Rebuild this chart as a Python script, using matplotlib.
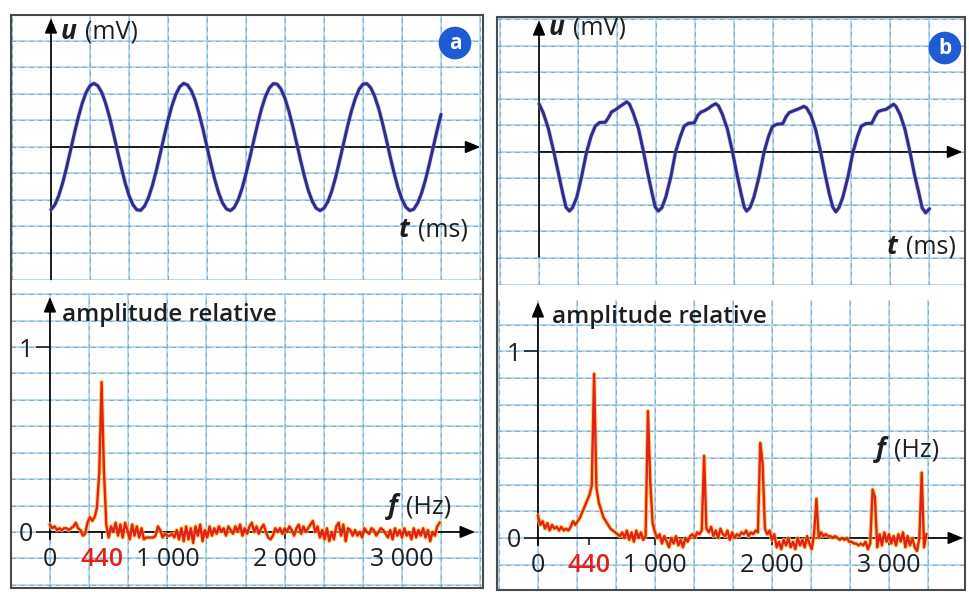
import numpy as np
import matplotlib.pyplot as plt
from matplotlib.ticker import MultipleLocator
from matplotlib.patches import Rectangle
import matplotlib.patheffects as pe

plt.rcParams['font.family'] = ['Open Sans', 'DejaVu Sans']

# --- signal a : pure tone (t in ms, u in mV), sampled every 0.1 ms
t_a = np.arange(0, 10.001, 0.1)
u_a = [-2.37, -2.18, -1.83, -1.35, -0.77, -0.13, 0.52, 1.12, 1.65, 2.06,
       2.31, 2.40, 2.31, 2.06, 1.65, 1.13, 0.52, -0.13, -0.76, -1.35,
       -1.83, -2.18, -2.37, -2.39, -2.23, -1.91, -1.45, -0.89, -0.26, 0.39,
       1.01, 1.55, 1.98, 2.27, 2.40, 2.34, 2.12, 1.75, 1.24, 0.65,
       0.00, -0.64, -1.23, -1.74, -2.12, -2.34, -2.40, -2.28, -1.99, -1.56,
       -1.01, -0.39, 0.25, 0.88, 1.45, 1.91, 2.23, 2.39, 2.37, 2.18,
       1.83, 1.35, 0.77, 0.14, -0.51, -1.12, -1.65, -2.05, -2.31, -2.40,
       -2.31, -2.06, -1.66, -1.13, -0.52, 0.12, 0.76, 1.34, 1.82, 2.18,
       2.37, 2.39, 2.23, 1.91, 1.46, 0.90, 0.27, -0.38, -1.00, -1.55,
       -1.98, -2.27, -2.40, -2.35, -2.12, -1.75, -1.25, -0.65, -0.01, 0.63,
       1.23]

# --- signal b : instrument note
t_b = [0.00, 0.11, 0.24, 0.38, 0.50, 0.61, 0.69, 0.78,
       0.86, 0.97, 1.09, 1.22, 1.33, 1.44, 1.55, 1.70, 1.79, 1.86, 1.97, 2.06, 2.16,
       2.25, 2.32, 2.42, 2.55, 2.68, 2.79, 2.90, 2.98, 3.06,
       3.15, 3.25, 3.38, 3.50, 3.62, 3.72, 3.83, 3.98, 4.07, 4.15, 4.26, 4.34, 4.44,
       4.53, 4.60, 4.70, 4.83, 4.96, 5.07, 5.18, 5.26, 5.32,
       5.41, 5.51, 5.64, 5.77, 5.88, 5.98, 6.09, 6.25, 6.33, 6.41, 6.52, 6.61, 6.71,
       6.79, 6.86, 6.97, 7.09, 7.22, 7.33, 7.44, 7.53, 7.61,
       7.69, 7.79, 7.92, 8.05, 8.16, 8.26, 8.38, 8.53, 8.62, 8.69, 8.80, 8.89, 8.99,
       9.09, 9.15, 9.26, 9.38, 9.51, 9.62, 9.74, 9.82, 9.91, 10.01]
u_b = [1.82, 1.47, 0.88, 0.00, -0.82, -1.57, -2.08, -2.23,
       -2.10, -1.70, -0.94, 0.00, 0.57, 0.97, 1.11, 1.12, 1.32, 1.51, 1.60, 1.70, 1.80,
       1.89, 1.80, 1.45, 0.88, 0.00, -0.82, -1.57, -2.08, -2.23,
       -2.10, -1.70, -0.94, 0.00, 0.57, 0.97, 1.08, 1.10, 1.38, 1.50, 1.57, 1.64, 1.75,
       1.82, 1.74, 1.42, 0.86, 0.00, -0.82, -1.57, -2.08, -2.23,
       -2.10, -1.70, -0.94, 0.00, 0.57, 0.95, 1.04, 1.07, 1.32, 1.48, 1.55, 1.60, 1.66,
       1.72, 1.66, 1.38, 0.85, 0.00, -0.82, -1.57, -2.08, -2.26,
       -2.10, -1.70, -0.94, 0.00, 0.57, 0.97, 1.07, 1.08, 1.35, 1.52, 1.58, 1.60, 1.70,
       1.80, 1.72, 1.40, 0.86, 0.00, -0.82, -1.57, -2.10, -2.30, -2.14]

# --- spectra (f in Hz, every 20 Hz, relative amplitude)
f_spec = np.arange(0, 3340, 20)
amp_a = [0.04, 0.02, 0.03, 0.01, 0.02, 0.01, 0.02, 0.02, 0.01, 0.02,
         0.03, 0.05, 0.02, 0.01, -0.02, -0.01, 0.05, 0.08, 0.06, 0.08,
         0.13, 0.32, 0.81, 0.33, 0.04, -0.03, 0.03, 0.00, 0.05, -0.02,
         0.04, -0.03, 0.05, 0.01, -0.04, 0.04, -0.02, 0.03, -0.03, 0.02,
         -0.04, -0.03, -0.03, -0.03, -0.03, -0.02, 0.03, 0.01, -0.03, -0.01,
         -0.02, -0.02, -0.01, -0.03, 0.01, -0.04, 0.02, -0.05, 0.03, -0.04,
         0.02, -0.06, 0.03, -0.02, 0.04, -0.05, 0.01, -0.03, 0.03, -0.02,
         0.02, -0.01, 0.03, 0.00, 0.02, -0.02, 0.03, 0.01, -0.01, 0.03,
         0.00, 0.04, -0.02, 0.02, -0.01, 0.03, 0.05, 0.00, 0.03, -0.01,
         0.02, 0.04, 0.00, -0.03, -0.04, -0.02, 0.02, 0.00, 0.02, -0.01,
         0.02, 0.00, 0.03, 0.01, -0.02, 0.02, 0.04, -0.01, 0.03, 0.00,
         0.02, 0.04, 0.06, 0.00, 0.03, -0.03, 0.01, -0.04, 0.02, -0.05,
         0.00, -0.04, 0.03, 0.05, -0.02, 0.04, -0.05, 0.02, 0.01, -0.02,
         0.01, -0.02, 0.00, -0.03, 0.02, 0.00, -0.01, 0.02, 0.01, -0.02,
         0.00, 0.02, 0.01, -0.01, -0.03, 0.01, -0.04, 0.02, -0.02, 0.01,
         -0.03, 0.02, -0.02, 0.00, -0.04, 0.02, -0.03, 0.01, -0.02, 0.02,
         -0.03, 0.01, -0.05, 0.00, -0.02, 0.03, 0.05]
amp_b = [0.12, 0.07, 0.09, 0.05, 0.08, 0.04, 0.07, 0.05, 0.06, 0.04,
         0.06, 0.04, 0.05, 0.04, 0.06, 0.09, 0.07, 0.09, 0.11, 0.14,
         0.17, 0.20, 0.23, 0.28, 0.88, 0.27, 0.19, 0.15, 0.11, 0.09,
         0.07, 0.05, 0.04, 0.03, 0.02, 0.01, 0.03, 0.00, 0.04, -0.01,
         0.03, -0.02, 0.04, 0.00, 0.03, -0.01, 0.01, 0.68, 0.30, 0.08,
         0.03, 0.00, 0.02, -0.03, 0.01, -0.02, -0.05, 0.00, -0.03, 0.01,
         -0.04, -0.01, -0.05, 0.00, -0.02, 0.01, 0.02, 0.00, 0.03, 0.02,
         0.04, 0.44, 0.05, 0.03, 0.06, 0.01, 0.04, 0.00, 0.05, 0.02,
         0.01, 0.04, -0.01, 0.03, 0.00, 0.02, 0.01, 0.03, 0.02, 0.04,
         0.01, 0.03, 0.02, 0.04, 0.03, 0.51, 0.40, 0.05, 0.02, 0.04,
         -0.01, 0.02, -0.05, -0.02, -0.06, -0.01, -0.04, 0.00, -0.05, -0.02,
         -0.06, 0.00, -0.04, -0.01, -0.05, 0.01, -0.03, -0.06, 0.02, 0.21,
         0.00, 0.03, 0.01, 0.02, 0.01, 0.01, 0.00, 0.01, 0.00, -0.01,
         0.00, -0.01, 0.00, -0.02, -0.02, -0.03, -0.03, -0.04, -0.03, -0.04,
         -0.02, -0.06, -0.03, 0.26, 0.22, -0.05, 0.02, -0.04, 0.03, -0.02,
         0.02, -0.03, 0.01, -0.04, 0.02, -0.02, 0.03, -0.05, 0.01, -0.04,
         0.00, -0.05, -0.07, 0.00, 0.35, -0.05, 0.02]

f_ticks = [0, 440, 1000, 2000, 3000]
f_labels = ['0', '440', '1 000', '2 000', '3 000']

W, H = 969, 592
INK = '#1e1e1e'
BLUE_LINE = '#2b2e8c'
RED = '#e3201b'
fig = plt.figure(figsize=(W / 100, H / 100), dpi=100)


def rect(left, top, right, bottom):
    return [left / W, 1 - bottom / H, (right - left) / W, (bottom - top) / H]


def paper(ax, dx, dy):
    x0, x1 = ax.get_xlim()
    y0, y1 = ax.get_ylim()
    for v in MultipleLocator(dx).tick_values(x0, x1):
        ax.axvline(v, color='#afd9f2', lw=1.3, zorder=0)
        ax.axvline(v, color='#56616c', lw=0.8, ls=(0, (4, 4)), alpha=0.4, zorder=0.5)
    for v in MultipleLocator(dy).tick_values(y0, y1):
        ax.axhline(v, color='#afd9f2', lw=1.3, zorder=0)
        ax.axhline(v, color='#56616c', lw=0.8, ls=(0, (4, 4)), alpha=0.4, zorder=0.5)
    for s in ax.spines.values():
        s.set_visible(False)


def arrow(ax, x0, y0, x1, y1):
    ax.annotate('', xy=(x1, y1), xytext=(x0, y0), annotation_clip=False,
                arrowprops=dict(arrowstyle='-|>,head_length=0.6,head_width=0.25',
                                mutation_scale=15, color='black', lw=1.2,
                                shrinkA=0, shrinkB=0), zorder=2.5)


def label(ax, x, y, sym, unit, size=19):
    t = ax.text(x, y, sym, fontsize=size, fontweight='bold', fontstyle='italic',
                color=INK, va='center', ha='left')
    ax.annotate(unit, xy=(1, 0.5), xycoords=t, xytext=(6, 0), textcoords='offset points',
                fontsize=size - 1, color=INK, va='center', ha='left')


def badge(ax, x, y, letter):
    ax.text(x, y, letter, transform=ax.transAxes, ha='center', va='center',
            color='white', fontsize=15, fontweight='bold',
            bbox=dict(boxstyle='circle,pad=0.28', fc='#1f5bd3', ec='none'))


def time_panel(ax, t, u, v_low, letter, badge_xy, u_lab, t_lab):
    paper(ax, 1, 1)
    ax.set_xticks([])
    ax.set_yticks([])
    x1 = ax.get_xlim()[1]
    y1 = ax.get_ylim()[1]
    arrow(ax, 0, v_low, 0, y1 - 0.12)
    arrow(ax, 0, 0, x1 - 0.07, 0)
    ax.plot(t, u, color=BLUE_LINE, lw=2.2, zorder=3, solid_capstyle='round',
            solid_joinstyle='round',
            path_effects=[pe.Stroke(linewidth=3.2, foreground='#a98bcf', alpha=0.45), pe.Normal()])
    label(ax, *u_lab, 'u', '(mV)')
    label(ax, *t_lab, 't', '(ms)')
    badge(ax, *badge_xy, letter)


def spec_panel(ax, f, amp, f_end, amp_top, name_xy, f_lab):
    paper(ax, 1000 / 3, 1 / 7)
    ax.spines['left'].set_position(('data', 0))
    ax.spines['bottom'].set_position(('data', 0))
    ax.set_xticks(f_ticks, f_labels)
    ax.set_yticks([0, 1], ['0', '1'])
    ax.tick_params(axis='x', length=5, width=1.2, pad=6, labelsize=18, colors=INK)
    ax.tick_params(axis='y', length=10, width=1.2, pad=2, labelsize=18, colors=INK)
    ax.get_xticklabels()[1].set_color(RED)
    ax.get_xticklabels()[1].set_fontweight('semibold')
    arrow(ax, 0, -0.04, 0, amp_top)
    arrow(ax, 0, 0, f_end, 0)
    ax.plot(f, amp, color=RED, lw=1.7, zorder=3, solid_joinstyle='round',
            path_effects=[pe.Stroke(linewidth=3.2, foreground='#ffc93c', alpha=0.75), pe.Normal()])
    ax.text(*name_xy, 'amplitude relative', fontsize=17.5, fontweight='semibold',
            color=INK, va='center', ha='left')
    label(ax, *f_lab, 'f', '(Hz)')


# panel a
ax_at = fig.add_axes(rect(11, 15, 483, 279.5))
ax_at.set_xlim(-1.026, 11.077)
ax_at.set_ylim(-5.0, 4.98)
time_panel(ax_at, t_a, u_a, -5.0, 'a', (0.9407, 0.894), (0.25, 4.34), (8.92, -3.13))

ax_af = fig.add_axes(rect(11, 293, 483, 588))
ax_af.set_xlim(-332, 3690)
ax_af.set_ylim(-0.303, 1.292)
spec_panel(ax_af, f_spec, amp_a, 3622, 1.27, (100, 1.173), (2880, 0.135))

# panel b
ax_bt = fig.add_axes(rect(497, 17, 965, 284.5))
ax_bt.set_xlim(-1.077, 10.92)
ax_bt.set_ylim(-5.0, 5.09)
time_panel(ax_bt, t_b, u_b, -3.96, 'b', (0.957, 0.884), (0.25, 4.68), (8.92, -3.58))

ax_bf = fig.add_axes(rect(497, 300, 965, 590))
ax_bf.set_xlim(-350, 3650)
ax_bf.set_ylim(-0.279, 1.276)
spec_panel(ax_bf, f_spec, amp_b, 3633, 1.265, (120, 1.185), (2890, 0.472))

# frames around the two panels
for l, t, r, b in [(11, 15, 483, 588), (497, 17, 965, 590)]:
    fig.add_artist(Rectangle((l / W, 1 - b / H), (r - l) / W, (b - t) / H,
                             transform=fig.transFigure, fill=False, ec='#4a4a4a', lw=1.5))

fig.savefig('out.png', dpi=100, facecolor='white')
